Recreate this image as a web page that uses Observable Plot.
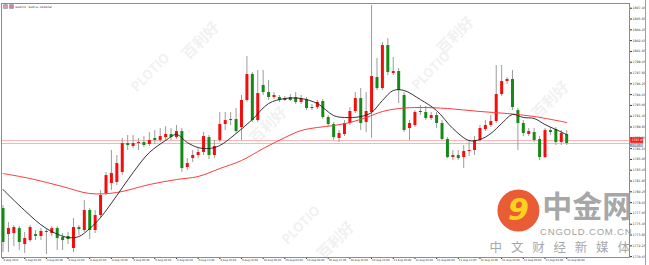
<!DOCTYPE html>
<html><head><meta charset="utf-8">
<script src="https://cdn.jsdelivr.net/npm/d3@7"></script>
<script src="https://cdn.jsdelivr.net/npm/@observablehq/plot@0.6"></script>
<style>
html,body{margin:0;padding:0;background:#fff;}
#wrap{position:relative;width:649px;height:265px;overflow:hidden;}
#wrap svg{display:block;background:linear-gradient(#c9c9c9 0 2px,#fff 2px);}
#edge{position:absolute;left:645px;top:0;width:0;height:265px;border-left:1px solid #a0a0a0;pointer-events:none;}
</style></head><body><div id="wrap"><div id="edge"></div></div>
<script>
const opens = [1777.78,1773.92,1774.07,1774.81,1772.44,1773.03,1773.92,1773.63,1774.37,1774.07,
1774.81,1773.48,1773.63,1771.85,1774.96,1774.52,1777.48,1774.52,1776.74,1780.00,
1781.48,1781.63,1783.11,1787.40,1786.96,1787.40,1787.55,1787.26,1788.15,1787.85,
1788.29,1788.74,1788.29,1789.18,1783.85,1785.18,1785.63,1786.07,1788.29,1785.63,
1787.85,1790.22,1790.81,1790.96,1789.78,1793.78,1797.63,1790.81,1796.00,1794.96,
1794.22,1794.22,1793.78,1794.22,1794.22,1793.48,1793.92,1792.59,1792.74,1793.63,
1791.26,1790.22,1788.15,1788.74,1790.37,1792.15,1794.07,1790.52,1792.00,1797.18,
1795.55,1801.92,1797.78,1798.07,1794.52,1789.63,1790.07,1792.00,1792.00,1791.11,
1791.55,1790.37,1788.00,1785.33,1785.63,1785.33,1786.22,1786.37,1787.85,1789.48,
1790.07,1790.66,1794.66,1796.59,1796.89,1792.29,1790.37,1788.74,1789.03,1788.00,
1785.33,1789.33,1789.48,1787.55,1788.74];
const highs = [1778.22,1775.70,1775.26,1775.11,1774.22,1775.26,1774.52,1774.81,1774.66,1775.11,
1775.11,1774.07,1774.22,1776.29,1775.26,1778.96,1777.78,1777.48,1780.44,1783.11,
1786.37,1785.63,1788.15,1788.59,1788.59,1788.15,1788.44,1789.03,1789.33,1789.63,
1789.92,1789.63,1790.07,1789.63,1785.18,1786.37,1786.66,1789.03,1788.59,1787.85,
1792.00,1792.00,1792.00,1792.59,1794.52,1800.29,1797.92,1798.22,1798.22,1796.74,
1794.96,1794.52,1794.37,1794.66,1794.96,1794.52,1794.22,1793.18,1793.78,1793.92,
1791.55,1790.52,1789.33,1790.81,1792.74,1794.96,1795.55,1794.96,1807.85,1800.00,
1802.37,1802.96,1800.15,1798.52,1794.96,1790.81,1792.29,1793.03,1792.89,1792.00,
1792.00,1790.81,1788.29,1786.37,1786.37,1787.11,1787.85,1788.44,1790.07,1790.81,
1791.55,1798.96,1798.96,1797.18,1798.22,1792.59,1790.81,1789.63,1789.63,1788.44,
1789.63,1789.78,1789.78,1789.33,1789.33];
const lows = [1771.26,1771.26,1772.15,1771.55,1771.11,1772.74,1773.03,1773.03,1770.96,1773.63,
1771.55,1771.55,1772.44,1771.26,1773.78,1774.22,1773.18,1774.07,1776.29,1779.70,
1780.44,1781.18,1782.66,1786.37,1786.66,1786.37,1786.81,1786.96,1787.26,1787.55,
1787.85,1787.85,1788.00,1783.11,1783.40,1784.59,1785.18,1785.63,1785.03,1785.18,
1787.55,1789.33,1790.07,1788.89,1787.85,1793.48,1790.52,1790.52,1794.52,1793.78,
1793.92,1793.48,1793.63,1793.63,1793.18,1793.18,1792.29,1792.29,1792.44,1790.96,
1789.92,1787.85,1787.55,1788.44,1790.07,1791.85,1789.33,1789.03,1788.15,1795.26,
1795.26,1797.48,1797.48,1793.33,1789.03,1787.85,1789.78,1791.55,1790.81,1790.81,
1789.63,1787.85,1785.18,1784.89,1784.89,1783.70,1785.48,1785.63,1787.55,1789.18,
1789.78,1790.37,1794.37,1796.15,1792.29,1786.37,1788.44,1788.44,1787.55,1784.89,
1785.18,1788.59,1787.11,1787.11,1787.11];
const closes = [1772.74,1774.81,1774.96,1772.74,1773.33,1774.96,1773.63,1774.37,1774.22,1774.81,
1773.33,1773.03,1773.18,1774.96,1774.66,1777.48,1774.52,1776.74,1779.70,1782.66,
1782.96,1784.44,1787.40,1787.11,1787.40,1787.55,1787.11,1787.85,1787.85,1788.44,
1788.74,1788.29,1789.18,1783.70,1784.44,1785.63,1786.07,1788.44,1785.63,1786.96,
1790.22,1790.81,1790.96,1789.18,1793.78,1797.63,1790.81,1794.81,1794.96,1794.22,
1794.52,1793.78,1794.07,1793.78,1793.48,1794.07,1792.59,1792.74,1793.48,1791.26,
1790.22,1788.29,1788.89,1790.37,1792.15,1794.07,1790.37,1792.15,1797.33,1795.55,
1801.92,1797.92,1798.07,1795.26,1789.33,1790.37,1792.00,1792.15,1791.11,1791.55,
1790.37,1788.00,1785.33,1785.63,1785.18,1786.22,1786.37,1787.85,1789.63,1790.07,
1790.66,1794.66,1796.59,1796.89,1792.74,1790.37,1788.89,1789.18,1787.85,1785.33,
1789.33,1789.03,1787.55,1788.89,1787.40];

const maFastBars = [0,4,8,12,14,16,18,21,24,27,30,32,34,36,38,40,43,46,49,52,55,58,61,63,66,68,70,72,74,77,80,83,86,88,90,92,94,96,98,100,102,104];
const maFastValues = [1780.59,1777.48,1774.81,1773.48,1773.63,1774.81,1776.44,1779.70,1783.11,1786.07,
1787.85,1788.74,1787.55,1786.81,1786.66,1787.11,1788.89,1790.96,1793.33,1794.07,
1794.07,1793.33,1791.55,1791.26,1791.40,1792.00,1793.78,1795.26,1795.26,1793.92,
1792.29,1789.63,1787.85,1788.00,1788.89,1790.37,1791.70,1791.26,1791.11,1790.22,1789.48,1788.74];
const maSlowBars = [0,5,11,16,21,27,32,36,40,44,48,52,55,58,61,64,67,70,73,77,82,88,93,98,104];
const maSlowValues = [1782.96,1782.22,1781.03,1780.00,1780.15,1781.33,1782.07,1782.52,1783.70,1784.89,
1786.66,1788.29,1789.33,1789.78,1790.07,1790.52,1791.26,1792.15,1792.59,1792.74,1792.59,1792.15,1791.85,1791.41,1790.52];

const priceTicks = [1807.45,1805.85,1804.25,1802.65,1801.05,1799.45,1797.85,1796.25,1794.65,1793.05,1791.45,1789.85,1788.25,1786.65,1785.05,1783.45,1781.85,1780.25,1778.65,1777.05,1775.45,1773.85,1772.25,1770.65];
const timeTickBars = [0,4,8,12,16,20,24,28,32,36,40,44,48,52,56,60,64,68,72,76,80,84,88,92,96,100,104];
const timeLabels = ["8 Aug 2022","8 Aug 04:00","8 Aug 08:00","8 Aug 12:00","8 Aug 16:00","8 Aug 20:00","9 Aug 00:00","9 Aug 04:00","9 Aug 08:00","9 Aug 12:00","9 Aug 16:00","9 Aug 20:00","10 Aug 00:00","10 Aug 04:00","10 Aug 08:00","10 Aug 12:00","10 Aug 16:00","10 Aug 20:00","11 Aug 00:00","11 Aug 04:00","11 Aug 08:00","11 Aug 12:00","11 Aug 16:00","11 Aug 20:00","12 Aug 00:00","12 Aug 04:00","12 Aug 08:00"];
const askPrice = 1787.85;
const bidPrice = 1787.40;
const title = "Gold,H1 : Gold vs. US Dollar";

const bars = opens.map((o, i) => ({i, open: o, high: highs[i], low: lows[i], close: closes[i]}));
const fast = maFastBars.map((b, k) => ({i: b, v: maFastValues[k]}));
const slow = maSlowBars.map((b, k) => ({i: b, v: maSlowValues[k]}));
const xDomain = [-0.28, 115.59];
const yDomain = [1770.52, 1808.15];

const wm = [
  {i: 27.2, p: 1797.9, t: "PLOTIO", s: 13}, {i: 36.5, p: 1802.6, t: "百利好", s: 15},
  {i: 79, p: 1798.2, t: "PLOTIO", s: 13}, {i: 83.5, p: 1803.4, t: "百利好", s: 15},
  {i: 49, p: 1790.1, t: "百利好", s: 15}, {i: 101, p: 1793.8, t: "百利好", s: 15},
  {i: 55, p: 1775.3, t: "PLOTIO", s: 13}, {i: 61.4, p: 1773.0, t: "百利好", s: 15}
];

const chart = Plot.plot({
  width: 649, height: 265,
  marginLeft: 1, marginRight: 20, marginTop: 3, marginBottom: 8,
  style: {fontSize: "3.2px", fontFamily: "DejaVu Sans", color: "#333", background: "transparent"},
  x: {domain: xDomain, ticks: timeTickBars, tickSize: 2, tickFormat: () => "", label: null},
  y: {domain: yDomain, axis: "right", ticks: priceTicks, tickSize: 2, tickPadding: 1, tickFormat: d => d.toFixed(2), label: null},
  marks: [
    Plot.text(wm, {x: "i", y: "p", text: "t", rotate: -45, fontSize: "s", fontWeight: "bold", fill: "#f1f1f1", fontFamily: "Noto Sans CJK SC"}),
    Plot.ruleY([askPrice], {stroke: "#ffb4b4", strokeWidth: 1}),
    Plot.ruleY([bidPrice], {stroke: "#c3c6cf", strokeWidth: 1}),
    Plot.ruleX(bars, {x: "i", y1: "low", y2: "high", stroke: "#9c9c9c", strokeWidth: 1}),
    Plot.ruleX(bars.filter(d => d.close >= d.open), {x: "i", y1: "open", y2: "close", stroke: "#f40d0d", strokeWidth: 3}),
    Plot.ruleX(bars.filter(d => d.close < d.open), {x: "i", y1: "open", y2: "close", stroke: "#168a16", strokeWidth: 3}),
    Plot.line(slow, {x: "i", y: "v", stroke: "#ff3b3b", strokeWidth: 1, curve: "catmull-rom"}),
    Plot.line(fast, {x: "i", y: "v", stroke: "#1e1e1e", strokeWidth: 0.9, curve: "catmull-rom"}),
    Plot.frame({stroke: "#8c8c8c"}),
    Plot.text(timeTickBars, {x: d => d, frameAnchor: "bottom", dy: 3, dx: 0.5, text: (d, k) => timeLabels[k], textAnchor: "start", fontSize: 2.6, fill: "#333"}),
    Plot.rect([askPrice], {x1: 115.8, x2: 118.2, y1: d => d - 0.42, y2: d => d + 0.42, fill: "#f21f1f"}),
    Plot.rect([bidPrice], {x1: 115.8, x2: 118.2, y1: d => d - 0.56, y2: d => d - 0.02, fill: "#8e9bb4"}),
    Plot.text([askPrice], {x: 115.8, y: d => d, dx: 1, text: d => d.toFixed(2), textAnchor: "start", fill: "#fff", fontSize: 3}),
    Plot.text([bidPrice], {x: 115.8, y: d => d - 0.29, dx: 1, text: d => d.toFixed(2), textAnchor: "start", fill: "#fff", fontSize: 2.8}),
    Plot.dot([0], {frameAnchor: "top-left", dx: 4, dy: 3, symbol: "square", r: 2.2, fill: "#e69a9a", stroke: "#7a8ab8", strokeWidth: 0.6}),
    Plot.dot([0], {frameAnchor: "top-left", dx: 10, dy: 3, symbol: "square", r: 2.2, fill: "#e38080", stroke: "#7a8ab8", strokeWidth: 0.6}),
    Plot.text([title], {frameAnchor: "top-left", dx: 14, dy: 3, text: d => d, textAnchor: "start", fontSize: 2.6, fill: "#222"}),
    Plot.dot([0], {x: 95.1, y: 1777.48, r: 21, fill: "#e8532b", fillOpacity: 0.95}),
    Plot.text(["9"], {x: 95.1, y: 1777.48, text: d => d, fontSize: 30, fontWeight: "bold", fontStyle: "italic", fill: "#ffd21f", fontFamily: "DejaVu Sans"}),
    Plot.text(["中金网"], {x: 99.5, y: 1777.9, text: d => d, textAnchor: "start", fontSize: 30, fontWeight: "bold", fill: "#9b9b9b", fillOpacity: 0.9, fontFamily: "Noto Sans CJK SC"}),
    Plot.text(["CNGOLD.COM.CN"], {x: 107.6, y: 1774.25, text: d => d, fontSize: 9.5, fill: "#a2a2a2", fontFamily: "Liberation Sans"}),
    Plot.text(["中 文 财 经 新 媒 体"], {x: 103.0, y: 1772.0, text: d => d, fontSize: 12.5, fill: "#a8a8a8", fontFamily: "Noto Sans CJK SC"})
  ]
});
document.getElementById("wrap").prepend(chart);
d3.select(chart).selectAll("text").filter(function() { return this.textContent === "中 文 财 经 新 媒 体"; }).attr("letter-spacing", "3px");
d3.select(chart).selectAll("text").filter(function() { return this.textContent === "CNGOLD.COM.CN"; }).attr("letter-spacing", "0.8px");
</script>
</body></html>
